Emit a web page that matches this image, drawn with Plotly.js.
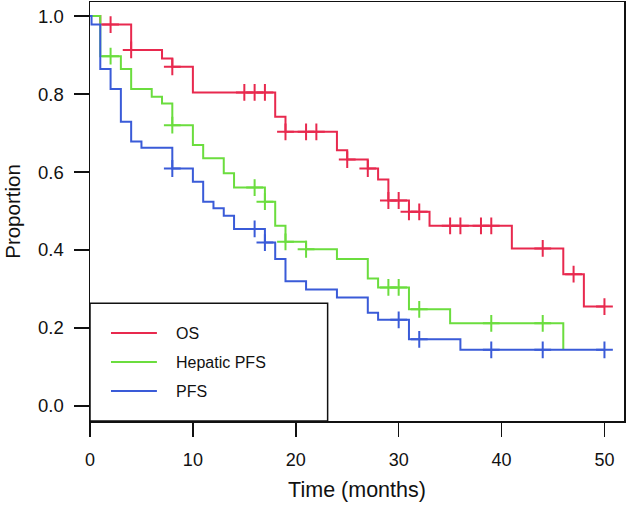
<!DOCTYPE html>
<html>
<head>
<meta charset="utf-8">
<script src="https://cdn.plot.ly/plotly-3.0.1.min.js"></script>
<style>html,body{margin:0;padding:0;background:#fff;}#chart{width:629px;height:506px;}</style>
</head>
<body>
<div id="chart"></div>
<script>
// Series names
const seriesNames = ["OS", "Hepatic PFS", "PFS"];

// OS (red) step function
const osTimes  = [0, 1, 4, 7, 8, 10, 18, 19, 24, 25, 27, 28, 29, 31, 33, 41, 46, 48, 50];
const osValues = [1.0, 0.978, 0.913, 0.891, 0.870, 0.804, 0.742, 0.703, 0.656, 0.632, 0.609, 0.581, 0.527, 0.498, 0.462, 0.404, 0.338, 0.255, 0.255];
const osCensor = [2, 4, 8, 15, 16, 17, 19, 21, 22, 25, 27, 29, 30, 31, 32, 35, 36, 38, 39, 44, 47, 50];

// Hepatic PFS (green)
const hepTimes  = [0, 1, 3, 4, 6, 7, 8, 10, 11, 13, 14, 17, 18, 19, 21, 24, 27, 28, 31, 35, 46];
const hepValues = [1.0, 0.897, 0.864, 0.813, 0.793, 0.776, 0.720, 0.669, 0.635, 0.597, 0.560, 0.524, 0.462, 0.421, 0.402, 0.377, 0.327, 0.304, 0.248, 0.212, 0.144];
const hepCensor = [2, 8, 16, 17, 19, 21, 29, 30, 32, 39, 44];

// PFS (blue)
const pfsTimes  = [0, 0.15, 1, 2, 3, 4, 5, 8, 10, 11, 12, 13, 14, 17, 18, 19, 21, 24, 27, 28, 31, 36, 50];
const pfsValues = [1.0, 0.978, 0.864, 0.813, 0.729, 0.678, 0.662, 0.609, 0.575, 0.524, 0.507, 0.488, 0.454, 0.419, 0.377, 0.320, 0.299, 0.278, 0.239, 0.221, 0.171, 0.144, 0.144];
const pfsCensor = [8, 16, 17, 30, 32, 39, 44, 50];

// Axis ticks
const xTicks = [0, 10, 20, 30, 40, 50];
const yTicks = [0.0, 0.2, 0.4, 0.6, 0.8, 1.0];

const colors = ["#E8294E", "#6BDD3E", "#3A5BD8"];

function stepAt(times, values, t) {
  let v = values[0];
  for (let i = 0; i < times.length; i++) { if (times[i] <= t) v = values[i]; }
  return v;
}

const series = [
  [osTimes, osValues, osCensor],
  [hepTimes, hepValues, hepCensor],
  [pfsTimes, pfsValues, pfsCensor]
];

const traces = [];
series.forEach((s, i) => {
  traces.push({
    x: s[0], y: s[1], type: "scatter", mode: "lines",
    line: {shape: "hv", color: colors[i], width: 2},
    name: seriesNames[i], showlegend: false, hoverinfo: "skip"
  });
});
series.forEach((s, i) => {
  traces.push({
    x: s[2], y: s[2].map(t => stepAt(s[0], s[1], t)), type: "scatter", mode: "markers",
    marker: {symbol: "cross-thin", size: 12, color: colors[i], line: {color: colors[i], width: 2}},
    showlegend: false, hoverinfo: "skip"
  });
});

// Legend drawn as a boxed key inside the plot
const legX0 = 0, legX1 = 0.445, legY0 = 0, legY1 = 0.281;
const legRowY = [0.2098, 0.1406, 0.0715];
const shapes = [{type: "rect", xref: "paper", yref: "paper", x0: legX0, x1: legX1, y0: legY0, y1: legY1,
  line: {color: "#111", width: 1.5}, fillcolor: "#fff", layer: "above"}];
const annotations = [];
seriesNames.forEach((n, i) => {
  shapes.push({type: "line", xref: "paper", yref: "paper", x0: 0.0393, x1: 0.1253, y0: legRowY[i], y1: legRowY[i],
    line: {color: colors[i], width: 2}, layer: "above"});
  annotations.push({xref: "paper", yref: "paper", x: 0.1572, y: legRowY[i], text: n, showarrow: false,
    xanchor: "left", yanchor: "middle", font: {family: "Liberation Sans, Arial, sans-serif", size: 16, color: "#111"}});
});

const layout = {
  width: 629, height: 506,
  margin: {l: 90, r: 4.5, t: 1.5, b: 85},
  paper_bgcolor: "#fff", plot_bgcolor: "#fff",
  showlegend: false,
  font: {family: "Liberation Sans, Arial, sans-serif", color: "#111"},
  xaxis: {
    range: [0, 51.9], tickvals: xTicks, ticktext: xTicks.map(String),
    ticks: "outside", ticklen: 14, tickwidth: 1.5, tickcolor: "#111",
    showline: true, mirror: true, linecolor: "#111", linewidth: 1.5,
    showgrid: false, zeroline: false, ticklabelstandoff: 8,
    tickfont: {size: 18, color: "#111"},
    title: {text: "Time (months)", font: {size: 21.5, color: "#111"}, standoff: 13}
  },
  yaxis: {
    range: [-0.0385, 1.036], tickvals: yTicks, ticktext: yTicks.map(v => v.toFixed(1)),
    ticks: "outside", ticklen: 15, tickwidth: 1.5, tickcolor: "#111",
    showline: true, mirror: true, linecolor: "#111", linewidth: 1.5,
    showgrid: false, zeroline: false, ticklabelstandoff: 6,
    tickfont: {size: 18.5, color: "#111"},
    title: {text: "Proportion", font: {size: 20.5, color: "#111"}, standoff: 12}
  },
  shapes: shapes,
  annotations: annotations
};

Plotly.newPlot("chart", traces, layout, {displayModeBar: false, staticPlot: true});
</script>
</body>
</html>
